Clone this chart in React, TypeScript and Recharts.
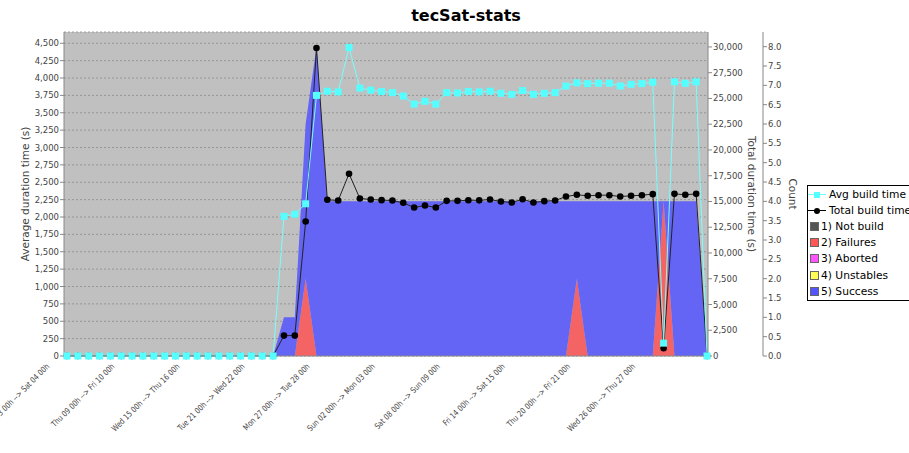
import React from 'react';
import {
  ComposedChart,
  Area,
  Line,
  XAxis,
  YAxis,
  CartesianGrid,
  Label,
} from 'recharts';

const categories = [
  'Fri 03 00h --> Sat 04 00h', 'Sat 04 00h --> Sun 05 00h', 'Sun 05 00h --> Mon 06 00h',
  'Mon 06 00h --> Tue 07 00h', 'Tue 07 00h --> Wed 08 00h', 'Wed 08 00h --> Thu 09 00h',
  'Thu 09 00h --> Fri 10 00h', 'Fri 10 00h --> Sat 11 00h', 'Sat 11 00h --> Sun 12 00h',
  'Sun 12 00h --> Mon 13 00h', 'Mon 13 00h --> Tue 14 00h', 'Tue 14 00h --> Wed 15 00h',
  'Wed 15 00h --> Thu 16 00h', 'Thu 16 00h --> Fri 17 00h', 'Fri 17 00h --> Sat 18 00h',
  'Sat 18 00h --> Sun 19 00h', 'Sun 19 00h --> Mon 20 00h', 'Mon 20 00h --> Tue 21 00h',
  'Tue 21 00h --> Wed 22 00h', 'Wed 22 00h --> Thu 23 00h', 'Thu 23 00h --> Fri 24 00h',
  'Fri 24 00h --> Sat 25 00h', 'Sat 25 00h --> Sun 26 00h', 'Sun 26 00h --> Mon 27 00h',
  'Mon 27 00h --> Tue 28 00h', 'Tue 28 00h --> Wed 29 00h', 'Wed 29 00h --> Thu 30 00h',
  'Thu 30 00h --> Fri 31 00h', 'Fri 31 00h --> Sat 01 00h', 'Sat 01 00h --> Sun 02 00h',
  'Sun 02 00h --> Mon 03 00h', 'Mon 03 00h --> Tue 04 00h', 'Tue 04 00h --> Wed 05 00h',
  'Wed 05 00h --> Thu 06 00h', 'Thu 06 00h --> Fri 07 00h', 'Fri 07 00h --> Sat 08 00h',
  'Sat 08 00h --> Sun 09 00h', 'Sun 09 00h --> Mon 10 00h', 'Mon 10 00h --> Tue 11 00h',
  'Tue 11 00h --> Wed 12 00h', 'Wed 12 00h --> Thu 13 00h', 'Thu 13 00h --> Fri 14 00h',
  'Fri 14 00h --> Sat 15 00h', 'Sat 15 00h --> Sun 16 00h', 'Sun 16 00h --> Mon 17 00h',
  'Mon 17 00h --> Tue 18 00h', 'Tue 18 00h --> Wed 19 00h', 'Wed 19 00h --> Thu 20 00h',
  'Thu 20 00h --> Fri 21 00h', 'Fri 21 00h --> Sat 22 00h', 'Sat 22 00h --> Sun 23 00h',
  'Sun 23 00h --> Mon 24 00h', 'Mon 24 00h --> Tue 25 00h', 'Tue 25 00h --> Wed 26 00h',
  'Wed 26 00h --> Thu 27 00h', 'Thu 27 00h --> Fri 28 00h', 'Fri 28 00h --> Sat 29 00h',
  'Sat 29 00h --> Sun 30 00h', 'Sun 30 00h --> Mon 31 00h', 'Mon 31 00h --> Tue 01 00h',
];

// average build time (s), left axis
const avgBuildTime = [
  0, 0, 0, 0, 0, 0, 0, 0, 0, 0,
  0, 0, 0, 0, 0, 0, 0, 0, 0, 0,
  2010, 2040, 2190, 3750, 3810, 3800, 4440, 3855, 3825, 3805,
  3790, 3740, 3625, 3665, 3625, 3790, 3785, 3805, 3800, 3810,
  3780, 3765, 3820, 3765, 3780, 3790, 3885, 3930, 3920, 3925,
  3925, 3885, 3910, 3920, 3940, 185, 3945, 3925, 3945, 0,
];

// total build time (s), first right axis
const totalBuildTime = [
  0, 0, 0, 0, 0, 0, 0, 0, 0, 0,
  0, 0, 0, 0, 0, 0, 0, 0, 0, 0,
  1980, 1980, 13050, 29900, 15160, 15100, 17690, 15290, 15190, 15130,
  15090, 14870, 14410, 14610, 14410, 15060, 15060, 15120, 15110, 15190,
  15000, 14900, 15220, 14900, 15030, 15090, 15480, 15650, 15550, 15610,
  15610, 15480, 15550, 15610, 15710, 745, 15740, 15650, 15740, 0,
];

// build counts, second right axis
const notBuild = new Array(60).fill(0);
const failures = [
  0, 0, 0, 0, 0, 0, 0, 0, 0, 0,
  0, 0, 0, 0, 0, 0, 0, 0, 0, 0,
  0, 0, 2, 0, 0, 0, 0, 0, 0, 0,
  0, 0, 0, 0, 0, 0, 0, 0, 0, 0,
  0, 0, 0, 0, 0, 0, 0, 2, 0, 0,
  0, 0, 0, 0, 0, 4, 0, 0, 0, 0,
];
const aborted = new Array(60).fill(0);
const unstables = new Array(60).fill(0);
const success = [
  0, 0, 0, 0, 0, 0, 0, 0, 0, 0,
  0, 0, 0, 0, 0, 0, 0, 0, 0, 0,
  1, 1, 4, 8, 4, 4, 4, 4, 4, 4,
  4, 4, 4, 4, 4, 4, 4, 4, 4, 4,
  4, 4, 4, 4, 4, 4, 4, 2, 4, 4,
  4, 4, 4, 4, 4, 0, 4, 4, 4, 0,
];

const avgTicks = [0, 250, 500, 750, 1000, 1250, 1500, 1750, 2000, 2250, 2500, 2750, 3000, 3250, 3500, 3750, 4000, 4250, 4500];
const totalTicks = [0, 2500, 5000, 7500, 10000, 12500, 15000, 17500, 20000, 22500, 25000, 27500, 30000];
const countTicks = [0, 0.5, 1, 1.5, 2, 2.5, 3, 3.5, 4, 4.5, 5, 5.5, 6, 6.5, 7, 7.5, 8];

const data = categories.map((name, i) => ({
  name,
  avg: avgBuildTime[i],
  total: totalBuildTime[i],
  notBuild: notBuild[i],
  failures: failures[i],
  aborted: aborted[i],
  unstables: unstables[i],
  success: success[i],
}));

const FONT = '"DejaVu Sans", sans-serif';
const tickStyle = { fontSize: 8.5, fill: '#444', fontFamily: FONT };
const titleStyle = { fontSize: 10.5, fill: '#444', fontFamily: FONT };

const legendItems = [
  { label: 'Avg build time', kind: 'square', color: '#55ffff' },
  { label: 'Total build time', kind: 'circle', color: '#000' },
  { label: '1) Not build', kind: 'box', color: '#555555' },
  { label: '2) Failures', kind: 'box', color: '#ff5555' },
  { label: '3) Aborted', kind: 'box', color: '#ff55ff' },
  { label: '4) Unstables', kind: 'box', color: '#ffff55' },
  { label: '5) Success', kind: 'box', color: '#5555ff' },
];

// rotated category label, its end sits a little left of the category point
const XTick = ({ x, y, payload }: any) => (
  <g transform={`translate(${x - 17},${y + 6})`}>
    <text x={0} y={0} textAnchor="end" transform="rotate(-45) scale(0.8 1)" fontSize={8.3} fill="#444" fontFamily={FONT}>
      {payload.value}
    </text>
  </g>
);

const SquareDot = (props: any) => {
  const { cx, cy, index } = props;
  if (cx == null || cy == null) return <g key={`sq-${index}`} />;
  return <rect key={`sq-${index}`} x={cx - 3.5} y={cy - 3.5} width={7} height={7} fill="#55ffff" />;
};

function ChartLegend() {
  return (
    <div
      style={{
        position: 'absolute',
        left: 807,
        top: 185,
        width: 130,
        height: 116,
        border: '1px solid #000',
        background: '#fff',
        boxSizing: 'border-box',
        fontFamily: FONT,
        fontSize: 10.7,
        color: '#000',
      }}
    >
      {legendItems.map((it, i) => {
        const top = 0.5 + i * 16.1;
        return (
          <div key={it.label} style={{ position: 'absolute', left: 0, top, height: 16, width: 130, display: 'flex', alignItems: 'center', whiteSpace: 'nowrap' }}>
            {it.kind === 'box' ? (
              <>
                <span style={{ display: 'inline-block', width: 7, height: 7, marginLeft: 2, marginRight: 2, background: it.color, border: '1px solid #666' }} />
                <span>{it.label}</span>
              </>
            ) : (
              <>
                <span style={{ position: 'relative', display: 'inline-block', width: 18, height: 16, marginRight: 3 }}>
                  <span style={{ position: 'absolute', left: 0, top: 7.5, width: 18, height: 1, background: it.kind === 'square' ? '#77ffff' : '#000' }} />
                  <span
                    style={{
                      position: 'absolute',
                      left: 6,
                      top: 5,
                      width: 6,
                      height: 6,
                      background: it.color,
                      borderRadius: it.kind === 'circle' ? '50%' : 0,
                    }}
                  />
                </span>
                <span>{it.label}</span>
              </>
            )}
          </div>
        );
      })}
    </div>
  );
}

export default function App() {
  return (
    <div style={{ position: 'relative', width: 909, height: 453, overflow: 'hidden', background: '#fff' }}>
      <style>{'body{margin:0}'}</style>
      <div
        style={{
          position: 'absolute',
          left: 411,
          top: 6,
          width: 110,
          textAlign: 'center',
          fontFamily: FONT,
          fontWeight: 'bold',
          fontSize: 16,
          color: '#000',
          whiteSpace: 'nowrap',
        }}
      >
        tecSat-stats
      </div>
      <ComposedChart
        width={909}
        height={453}
        data={data}
        margin={{ top: 32, right: 101, bottom: 0, left: 0 }}
      >
        <CartesianGrid
          yAxisId="left"
          vertical={false}
          fill="#c0c0c0"
          fillOpacity={1}
          stroke="#8a8a8a"
          strokeDasharray="2 2"
          strokeWidth={0.8}
        />
        <XAxis
          dataKey="name"
          type="category"
          scale="point"
          padding={{ left: 3, right: 1 }}
          interval={5}
          height={97}
          tick={<XTick />}
          tickLine={false}
          tickSize={4}
          tickMargin={1}
          axisLine={{ stroke: '#888' }}
        />
        <YAxis
          yAxisId="left"
          orientation="left"
          width={64}
          domain={[0, 4662]}
          ticks={avgTicks}
          interval={0}
          tick={tickStyle}
          tickSize={4}
          tickMargin={1}
          tickLine={{ stroke: '#888' }}
          axisLine={{ stroke: '#888' }}
          tickFormatter={(v) => Number(v).toLocaleString('en-US')}
        >
          <Label value="Average duration time (s)" angle={-90} position="center" dx={-7} style={titleStyle} />
        </YAxis>
        <YAxis
          yAxisId="r1"
          orientation="right"
          width={55}
          domain={[0, 31450]}
          ticks={totalTicks}
          interval={0}
          tick={tickStyle}
          tickSize={4}
          tickMargin={1}
          tickLine={{ stroke: '#888' }}
          axisLine={{ stroke: '#888' }}
          tickFormatter={(v) => Number(v).toLocaleString('en-US')}
        >
          <Label value="Total duration time (s)" angle={90} position="center" dx={16} style={titleStyle} />
        </YAxis>
        <YAxis
          yAxisId="r2"
          orientation="right"
          width={45}
          domain={[0, 8.38]}
          ticks={countTicks}
          interval={0}
          tick={tickStyle}
          tickSize={4}
          tickMargin={1}
          tickLine={{ stroke: '#888' }}
          axisLine={{ stroke: '#888' }}
          tickFormatter={(v) => Number(v).toFixed(1)}
        >
          <Label value="Count" angle={90} position="center" dx={7} style={titleStyle} />
        </YAxis>

        <Area yAxisId="r2" dataKey="notBuild" stackId="c" type="linear" stroke="none" fill="#555555" fillOpacity={1} isAnimationActive={false} />
        <Area yAxisId="r2" dataKey="failures" stackId="c" type="linear" stroke="none" fill="#f56464" fillOpacity={1} isAnimationActive={false} />
        <Area yAxisId="r2" dataKey="aborted" stackId="c" type="linear" stroke="none" fill="#ff55ff" fillOpacity={1} isAnimationActive={false} />
        <Area yAxisId="r2" dataKey="unstables" stackId="c" type="linear" stroke="none" fill="#ffff55" fillOpacity={1} isAnimationActive={false} />
        <Area yAxisId="r2" dataKey="success" stackId="c" type="linear" stroke="none" fill="#6464f5" fillOpacity={1} isAnimationActive={false} />

        <Line
          yAxisId="r1"
          dataKey="total"
          type="linear"
          stroke="#222"
          strokeWidth={1}
          dot={{ r: 3.3, fill: '#000', stroke: 'none' }}
          activeDot={false}
          isAnimationActive={false}
        />
        <Line
          yAxisId="left"
          dataKey="avg"
          type="linear"
          stroke="#77ffff"
          strokeWidth={1}
          dot={<SquareDot />}
          activeDot={false}
          isAnimationActive={false}
        />
      </ComposedChart>
      <ChartLegend />
    </div>
  );
}
